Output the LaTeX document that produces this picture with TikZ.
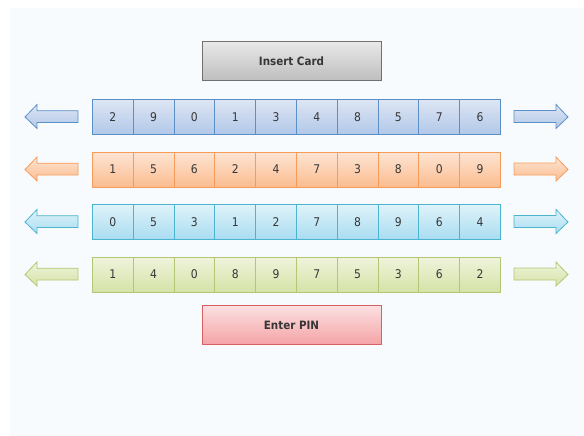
\documentclass[tikz,border=0pt]{standalone}
\usepackage{fontspec}
\setmainfont{DejaVu Sans Condensed}
\begin{document}
\begin{tikzpicture}[x=1pt,y=-1pt,
  cell/.style={draw=#1border, top color=#1top, bottom color=#1bot, line width=0.8pt,
    minimum width=40.8pt, minimum height=35pt, inner sep=0pt, anchor=west,
    font=\fontsize{12}{14}\selectfont, text=txt},
  arr/.style={draw=#1border, top color=#1top, bottom color=#1bot, line width=0.8pt, line join=miter},
  btn/.style={minimum width=179pt, minimum height=38.5pt, inner sep=0pt, line width=0.9pt,
    font=\fontsize{11.5}{14}\selectfont\bfseries, text=txt}]
\definecolor{txt}{HTML}{363636}
\definecolor{bg}{HTML}{F8FBFE}
\definecolor{bborder}{HTML}{5B8FC7}\definecolor{btop}{HTML}{DDE6F4}\definecolor{bbot}{HTML}{B2C7E8}
\definecolor{oborder}{HTML}{F79B5A}\definecolor{otop}{HTML}{FDE5D3}\definecolor{obot}{HTML}{FBBC90}
\definecolor{cborder}{HTML}{4BB4CF}\definecolor{ctop}{HTML}{DFF3FA}\definecolor{cbot}{HTML}{A9DCF0}
\definecolor{gborder}{HTML}{B2C775}\definecolor{gtop}{HTML}{EFF4DC}\definecolor{gbot}{HTML}{D5E2A6}
\useasboundingbox (0,0) rectangle (584,436);
\fill[bg] (10,8) rectangle (584,436);
\node[btn, draw={rgb,255:red,112;green,112;blue,112}, top color={rgb,255:red,232;green,232;blue,232}, bottom color={rgb,255:red,190;green,190;blue,190}] (card) at (291.5,61) {Insert Card};
\node[btn, draw={rgb,255:red,217;green,96;blue,96}, top color={rgb,255:red,252;green,224;blue,225}, bottom color={rgb,255:red,244;green,164;blue,166}] (pin) at (291.5,325) {Enter PIN};
\foreach \r/\c/\cy/\digits in {1/b/117/{2,9,0,1,3,4,8,5,7,6},2/o/169.5/{1,5,6,2,4,7,3,8,0,9},3/c/222/{0,5,3,1,2,7,8,9,6,4},4/g/274.5/{1,4,0,8,9,7,5,3,6,2}}{
  \foreach \d [count=\i] in \digits {
    \node[cell=\c] (r\r c\i) at ({92+(\i-1)*40.8},\cy) {\d};
  }
  \path[arr=\c] (25,\cy) -- (37,\cy-12.5) -- (37,\cy-6.3) -- (78,\cy-6.3) -- (78,\cy+5.5) -- (37,\cy+5.5) -- (37,\cy+11.5) -- cycle;
  \path[arr=\c] (568,\cy) -- (556,\cy-12.5) -- (556,\cy-6.5) -- (514,\cy-6.5) -- (514,\cy+5.5) -- (556,\cy+5.5) -- (556,\cy+11.5) -- cycle;
}
\end{tikzpicture}
\end{document}
